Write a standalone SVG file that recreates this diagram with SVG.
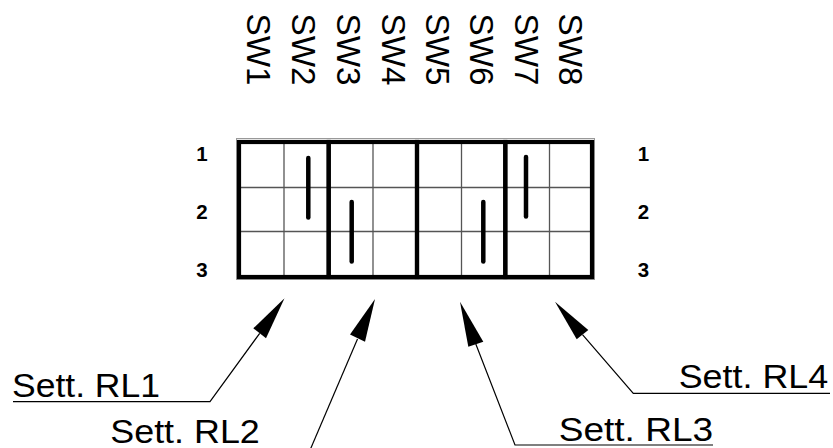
<svg xmlns="http://www.w3.org/2000/svg" width="833" height="448" viewBox="0 0 833 448">
<style>
text{font-family:"Liberation Sans",Arial,sans-serif;fill:#000}
.sw{font-size:33px}
.lbl{font-size:33px}
.row{font-size:20.5px;font-weight:bold;text-anchor:middle}
.grid{stroke:#555;stroke-width:1.3;fill:none}
.frame{stroke:#000;stroke-width:4.2;fill:none}
.lever{stroke:#000;stroke-width:4.5;stroke-linecap:round}
.lead{stroke:#000;stroke-width:1.2;fill:none}
.head{fill:#000}
</style>
<rect width="833" height="448" fill="#fff"/>
<g id="switch-labels">
<text class="sw" transform="translate(246.7,13.5) rotate(90)" textLength="72" lengthAdjust="spacingAndGlyphs">SW1</text>
<text class="sw" transform="translate(291.7,13.5) rotate(90)" textLength="72" lengthAdjust="spacingAndGlyphs">SW2</text>
<text class="sw" transform="translate(336.7,13.5) rotate(90)" textLength="72" lengthAdjust="spacingAndGlyphs">SW3</text>
<text class="sw" transform="translate(381.7,13.5) rotate(90)" textLength="72" lengthAdjust="spacingAndGlyphs">SW4</text>
<text class="sw" transform="translate(425.5,13.5) rotate(90)" textLength="72" lengthAdjust="spacingAndGlyphs">SW5</text>
<text class="sw" transform="translate(470,13.5) rotate(90)" textLength="72" lengthAdjust="spacingAndGlyphs">SW6</text>
<text class="sw" transform="translate(514.5,13.5) rotate(90)" textLength="72" lengthAdjust="spacingAndGlyphs">SW7</text>
<text class="sw" transform="translate(558.5,13.5) rotate(90)" textLength="72" lengthAdjust="spacingAndGlyphs">SW8</text>
</g>
<g id="row-labels-left">
<text class="row" x="202" y="161">1</text>
<text class="row" x="202" y="219">2</text>
<text class="row" x="202" y="277">3</text>
</g>
<g id="row-labels-right">
<text class="row" x="643.5" y="161">1</text>
<text class="row" x="643.5" y="219">2</text>
<text class="row" x="643.5" y="277">3</text>
</g>
<g id="dip-switch">
<rect x="236.5" y="138.5" width="358" height="141" fill="none" stroke="#999" stroke-width="1"/>
<line class="grid" x1="239" y1="187.5" x2="592" y2="187.5"/>
<line class="grid" x1="239" y1="231.5" x2="592" y2="231.5"/>
<line class="grid" x1="284" y1="142" x2="284" y2="277"/>
<line class="grid" x1="373" y1="142" x2="373" y2="277"/>
<line class="grid" x1="461.5" y1="142" x2="461.5" y2="277"/>
<line class="grid" x1="549.5" y1="142" x2="549.5" y2="277"/>
<rect class="frame" x="239" y="142" width="89.7" height="135"/>
<rect class="frame" x="328.7" y="142" width="88.3" height="135"/>
<rect class="frame" x="417" y="142" width="88.3" height="135"/>
<rect class="frame" x="505.3" y="142" width="86.7" height="135"/>
<line class="lever" x1="308.3" y1="158" x2="308.3" y2="217.5"/>
<line class="lever" x1="351.7" y1="202" x2="351.7" y2="261.5"/>
<line class="lever" x1="483.3" y1="202" x2="483.3" y2="261.5"/>
<line class="lever" x1="526" y1="157" x2="526" y2="216.5"/>
</g>
<g id="connectors">
<polyline class="lead" points="13,401.7 210,401.7 259.7,333.3"/>
<polygon class="head" points="284.5,298.3 253.3,328.3 266,338.3"/>
<polyline class="lead" points="357.5,339 310.5,449"/>
<polygon class="head" points="375,299 350,334.5 365,341.7"/>
<polyline class="lead" points="713,445 515,445 475.8,344"/>
<polygon class="head" points="460,301.7 468.3,346.7 483.3,341.7"/>
<polyline class="lead" points="830,393.3 633.3,393.3 582.5,334.7"/>
<polygon class="head" points="555,301.7 576.7,339.3 588.3,330"/>
</g>
<g id="label-rl1"><text class="lbl" x="12" y="396.7" textLength="148" lengthAdjust="spacingAndGlyphs">Sett. RL1</text></g>
<g id="label-rl2"><text class="lbl" x="110.3" y="442.5" textLength="149.5" lengthAdjust="spacingAndGlyphs">Sett. RL2</text></g>
<g id="label-rl3"><text class="lbl" x="558.7" y="440.5" textLength="154.5" lengthAdjust="spacingAndGlyphs">Sett. RL3</text></g>
<g id="label-rl4"><text class="lbl" x="678.7" y="388.3" textLength="149.5" lengthAdjust="spacingAndGlyphs">Sett. RL4</text></g>
</svg>
